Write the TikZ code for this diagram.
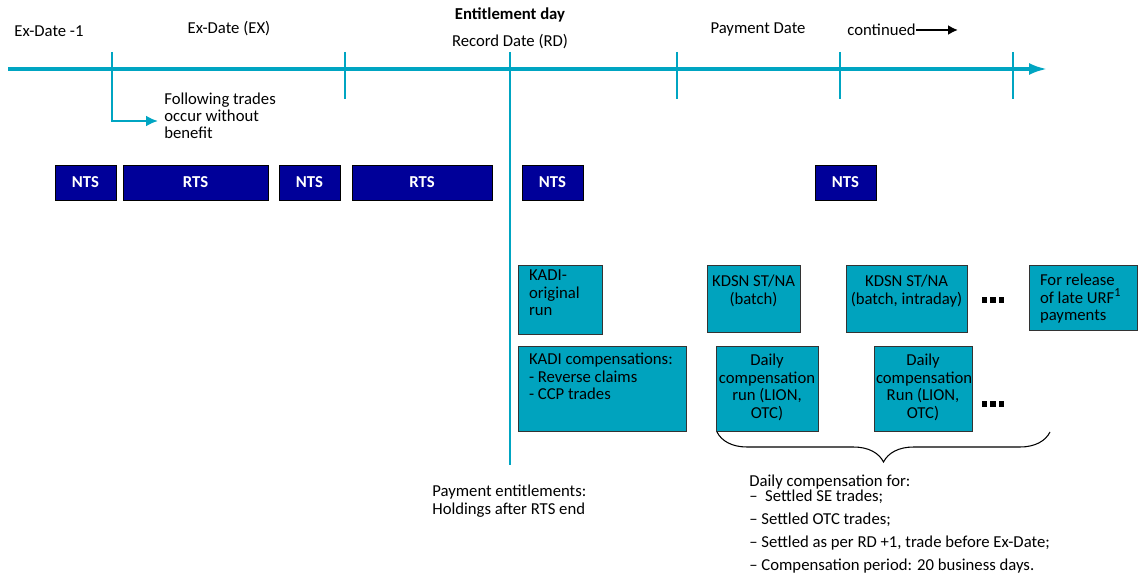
\documentclass[tikz,border=0pt]{standalone}
\usepackage{fontspec}
\setmainfont{Carlito}
\usepackage[svgnames]{xcolor}
\usepackage{tikz}
\usetikzlibrary{arrows.meta,decorations.pathreplacing}
\definecolor{linecol}{HTML}{00A5C2}
\definecolor{tealfill}{HTML}{00A3BE}
\definecolor{navyfill}{HTML}{000099}
\tikzstyle{none}=[inner sep=0pt]
\tikzstyle{txt}=[inner sep=0pt, font=\fontsize{9.5}{9.8}\selectfont]
\tikzstyle{axis}=[-{Latex[length=0.36cm,width=0.24cm]}, draw=linecol, line width=1.8pt]
\tikzstyle{tick}=[-, draw=linecol, line width=1.4pt]
\tikzstyle{navybox}=[draw=Black, line width=0.5pt, fill=navyfill, text=White, inner sep=0pt, minimum height=0.7cm, font=\fontsize{9.5}{10}\selectfont\bfseries]
\tikzstyle{tealbox}=[draw=Black!80, line width=0.5pt, fill=tealfill, inner xsep=0.04cm, inner ysep=0.1cm, font=\fontsize{9.5}{10}\selectfont]
\tikzstyle{simple}=[-, draw=Black, line width=0.6pt]

\begin{document}
\begin{tikzpicture}
  \useasboundingbox (0,0) rectangle (22.76,-11.58);
  % timeline
  \node [style=none] (0) at (0.16, -1.38) {};
  \node [style=none] (1) at (20.94, -1.38) {};
  \node [style=none] (2) at (2.24, -1.04) {};
  \node [style=none] (3) at (2.24, -2.42) {};
  \node [style=none] (4) at (3.16, -2.42) {};
  \node [style=none] (5) at (6.9, -1.04) {};
  \node [style=none] (6) at (6.9, -1.98) {};
  \node [style=none] (7) at (10.2, -1.04) {};
  \node [style=none] (8) at (10.2, -9.3) {};
  \node [style=none] (9) at (13.54, -1.04) {};
  \node [style=none] (10) at (13.54, -1.98) {};
  \node [style=none] (11) at (16.8, -1.04) {};
  \node [style=none] (12) at (16.8, -1.98) {};
  \node [style=none] (13) at (20.26, -1.04) {};
  \node [style=none] (14) at (20.26, -1.98) {};
  % dates
  \node [style=txt] (20) at (0.98, -0.62) {Ex-Date -1};
  \node [style=txt] (21) at (4.58, -0.58) {Ex-Date (EX)};
  \node [style=txt] (22) at (10.2, -0.3) {\bfseries Entitlement day};
  \node [style=txt] (23) at (10.2, -0.84) {Record Date (RD)};
  \node [style=txt] (24) at (15.16, -0.58) {Payment Date};
  \node [style=txt, anchor=east] (25) at (18.32, -0.6) {continued};
  \node [style=none] (26) at (19.16, -0.6) {};
  \node [style=txt, anchor=west, align=left] (27) at (3.28, -2.32) {Following trades\\occur without\\benefit};
  % trading status
  \node [style=navybox, minimum width=1.22cm] (30) at (1.71, -3.65) {NTS};
  \node [style=navybox, minimum width=2.9cm] (31) at (3.91, -3.65) {RTS};
  \node [style=navybox, minimum width=1.22cm] (32) at (6.19, -3.65) {NTS};
  \node [style=navybox, minimum width=2.8cm] (33) at (8.44, -3.65) {RTS};
  \node [style=navybox, minimum width=1.22cm] (34) at (11.05, -3.65) {NTS};
  \node [style=navybox, minimum width=1.22cm] (35) at (16.91, -3.65) {NTS};
  % runs
  \node [style=tealbox, inner xsep=0.22cm] (40) at (11.2, -5.99) {\parbox[c][1.18cm][t]{1.24cm}{\raggedright KADI-\\original\\run}};
  \node [style=tealbox] (41) at (15.07, -5.97) {\parbox[c][1.14cm][t]{1.78cm}{\centering\vspace{0.1cm}KDSN ST/NA\\(batch)}};
  \node [style=tealbox] (42) at (18.13, -5.97) {\parbox[c][1.14cm][t]{2.34cm}{\centering\vspace{0.1cm}KDSN ST/NA\\(batch, intraday)}};
  \node [style=tealbox, inner xsep=0.22cm] (43) at (21.66, -5.95) {\parbox[c][1.1cm][t]{1.72cm}{\raggedright\vspace{0.08cm}For release\\of late URF\textsuperscript{\scriptsize 1}\\payments}};
  \node [style=tealbox, inner xsep=0.22cm] (44) at (12.04, -7.77) {\parbox[c][1.5cm][t]{2.92cm}{\raggedright\vspace{0.04cm}KADI compensations:\\- Reverse claims\\- CCP trades}};
  \node [style=tealbox] (45) at (15.34, -7.77) {\parbox[c][1.5cm][t]{1.96cm}{\centering\vspace{0.06cm}Daily\\compensation\\run (LION,\\OTC)}};
  \node [style=tealbox] (46) at (18.46, -7.77) {\parbox[c][1.5cm][t]{1.88cm}{\centering\vspace{0.06cm}Daily\\compensation\\Run (LION,\\OTC)}};
  \node [style=txt] (47) at (19.86, -6.0) {\rule{3pt}{3pt}\kern2pt\rule{3pt}{3pt}\kern2pt\rule{3pt}{3pt}};
  \node [style=txt] (48) at (19.86, -8.08) {\rule{3pt}{3pt}\kern2pt\rule{3pt}{3pt}\kern2pt\rule{3pt}{3pt}};
  % brace and notes
  \node [style=none] (50) at (14.34, -8.64) {};
  \node [style=none] (51) at (21.0, -8.64) {};
  \node [style=txt, anchor=north west, align=left] (52) at (8.64, -9.7) {Payment entitlements:\\Holdings after RTS end};
  \node [style=txt, anchor=north west, align=left] (53) at (14.98, -9.5) {Daily compensation for:\\[-1.5pt]
    --\ \ Settled SE trades;\\[3.4pt]
    -- Settled OTC trades;\\[3.4pt]
    -- Settled as per RD +1, trade before Ex-Date;\\[2.8pt]
    -- Compensation period: 20 business days.};
  \draw [style=axis] (0.center) to (1.center);
  \draw [style=tick] (5.center) to (6.center);
  \draw [style=tick] (9.center) to (10.center);
  \draw [style=tick] (11.center) to (12.center);
  \draw [style=tick] (13.center) to (14.center);
  \draw [style=tick, line width=1.6pt] (7.center) to (8.center);
  \draw [style=tick, -{Latex[length=0.24cm,width=0.22cm]}] (2.center) to (3.center) to (4.center);
  \draw [-{Latex[length=0.2cm,width=0.2cm]}, line width=1.2pt] (25) to (26.center);
  \draw [style=simple, decorate, decoration={brace, mirror, amplitude=0.6cm}] (50.center) to (51.center);
\end{tikzpicture}
\end{document}
